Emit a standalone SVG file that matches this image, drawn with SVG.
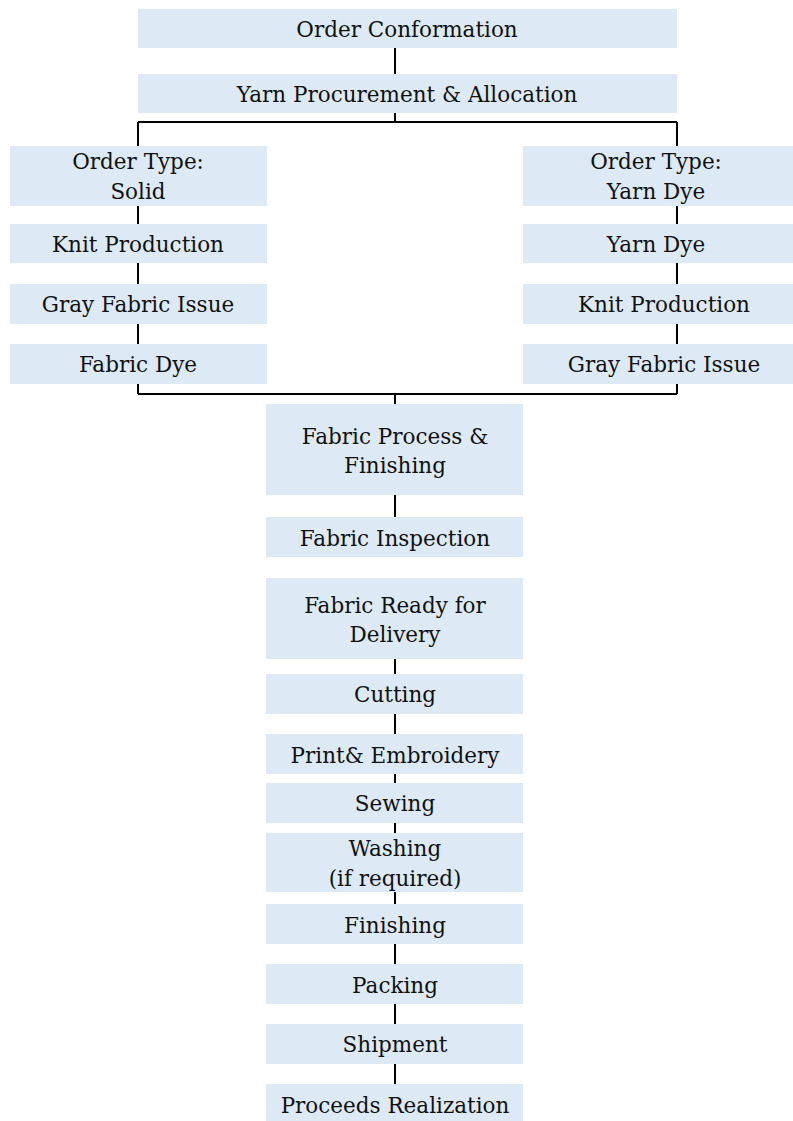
<svg xmlns="http://www.w3.org/2000/svg" width="793" height="1121" viewBox="0 0 793 1121">
<style>
.box{fill:#DDEAF6;}
.t{font-family:"DejaVu Serif","Liberation Serif",serif;font-size:21.5px;fill:#111;text-anchor:middle;}
.c{stroke:#000;stroke-width:2;fill:none;}
</style>
<rect width="793" height="1121" fill="#fff"/>
<g id="connectors">
<path class="c" d="M395 48V74M395 113V122M138 122H677M138 122V146M677 122V146"/>
<path class="c" d="M138 206V224M138 263V284M138 324V344M138 384V394"/>
<path class="c" d="M677 206V224M677 263V284M677 324V344M677 384V394"/>
<path class="c" d="M138 394H677M395 394V404"/>
<path class="c" d="M395 495V517M395 659V674M395 714V734M395 774V783M395 823V833M395 892V904M395 944V964M395 1004V1024M395 1064V1084"/>
</g>
<g id="n1"><rect class="box" x="138" y="9" width="539" height="39"/><text class="t" x="407" y="36.5">Order Conformation</text></g>
<g id="n2"><rect class="box" x="138" y="74" width="539" height="39"/><text class="t" x="407" y="101.5">Yarn Procurement &amp; Allocation</text></g>
<g id="l1"><rect class="box" x="10" y="146" width="257" height="60"/><text class="t" x="138" y="168.5">Order Type:</text><text class="t" x="138" y="198.5">Solid</text></g>
<g id="l2"><rect class="box" x="10" y="224" width="257" height="39"/><text class="t" x="138" y="251.5">Knit Production</text></g>
<g id="l3"><rect class="box" x="10" y="284" width="257" height="40"/><text class="t" x="138" y="311.5">Gray Fabric Issue</text></g>
<g id="l4"><rect class="box" x="10" y="344" width="257" height="40"/><text class="t" x="138" y="371.5">Fabric Dye</text></g>
<g id="r1"><rect class="box" x="523" y="146" width="270" height="60"/><text class="t" x="656" y="168.5">Order Type:</text><text class="t" x="656" y="198.5">Yarn Dye</text></g>
<g id="r2"><rect class="box" x="523" y="224" width="270" height="39"/><text class="t" x="656" y="251.5">Yarn Dye</text></g>
<g id="r3"><rect class="box" x="523" y="284" width="270" height="40"/><text class="t" x="664" y="311.5">Knit Production</text></g>
<g id="r4"><rect class="box" x="523" y="344" width="270" height="40"/><text class="t" x="664" y="371.5">Gray Fabric Issue</text></g>
<g id="c1"><rect class="box" x="266" y="404" width="257" height="91"/><text class="t" x="395" y="443.5">Fabric Process &amp;</text><text class="t" x="395" y="472.5">Finishing</text></g>
<g id="c2"><rect class="box" x="266" y="517" width="257" height="40"/><text class="t" x="395" y="545.5">Fabric Inspection</text></g>
<g id="c3"><rect class="box" x="266" y="578" width="257" height="81"/><text class="t" x="395" y="612.5">Fabric Ready for</text><text class="t" x="395" y="641.5">Delivery</text></g>
<g id="c4"><rect class="box" x="266" y="674" width="257" height="40"/><text class="t" x="395" y="701.5">Cutting</text></g>
<g id="c5"><rect class="box" x="266" y="734" width="257" height="40"/><text class="t" x="395" y="762.5">Print&amp; Embroidery</text></g>
<g id="c6"><rect class="box" x="266" y="783" width="257" height="40"/><text class="t" x="395" y="810.5">Sewing</text></g>
<g id="c7"><rect class="box" x="266" y="833" width="257" height="59"/><text class="t" x="395" y="855.5">Washing</text><text class="t" x="395" y="885.5">(if required)</text></g>
<g id="c8"><rect class="box" x="266" y="904" width="257" height="40"/><text class="t" x="395" y="932.5">Finishing</text></g>
<g id="c9"><rect class="box" x="266" y="964" width="257" height="40"/><text class="t" x="395" y="992.5">Packing</text></g>
<g id="c10"><rect class="box" x="266" y="1024" width="257" height="40"/><text class="t" x="395" y="1051.5">Shipment</text></g>
<g id="c11"><rect class="box" x="266" y="1084" width="257" height="37"/><text class="t" x="395" y="1112.5">Proceeds Realization</text></g>
</svg>
